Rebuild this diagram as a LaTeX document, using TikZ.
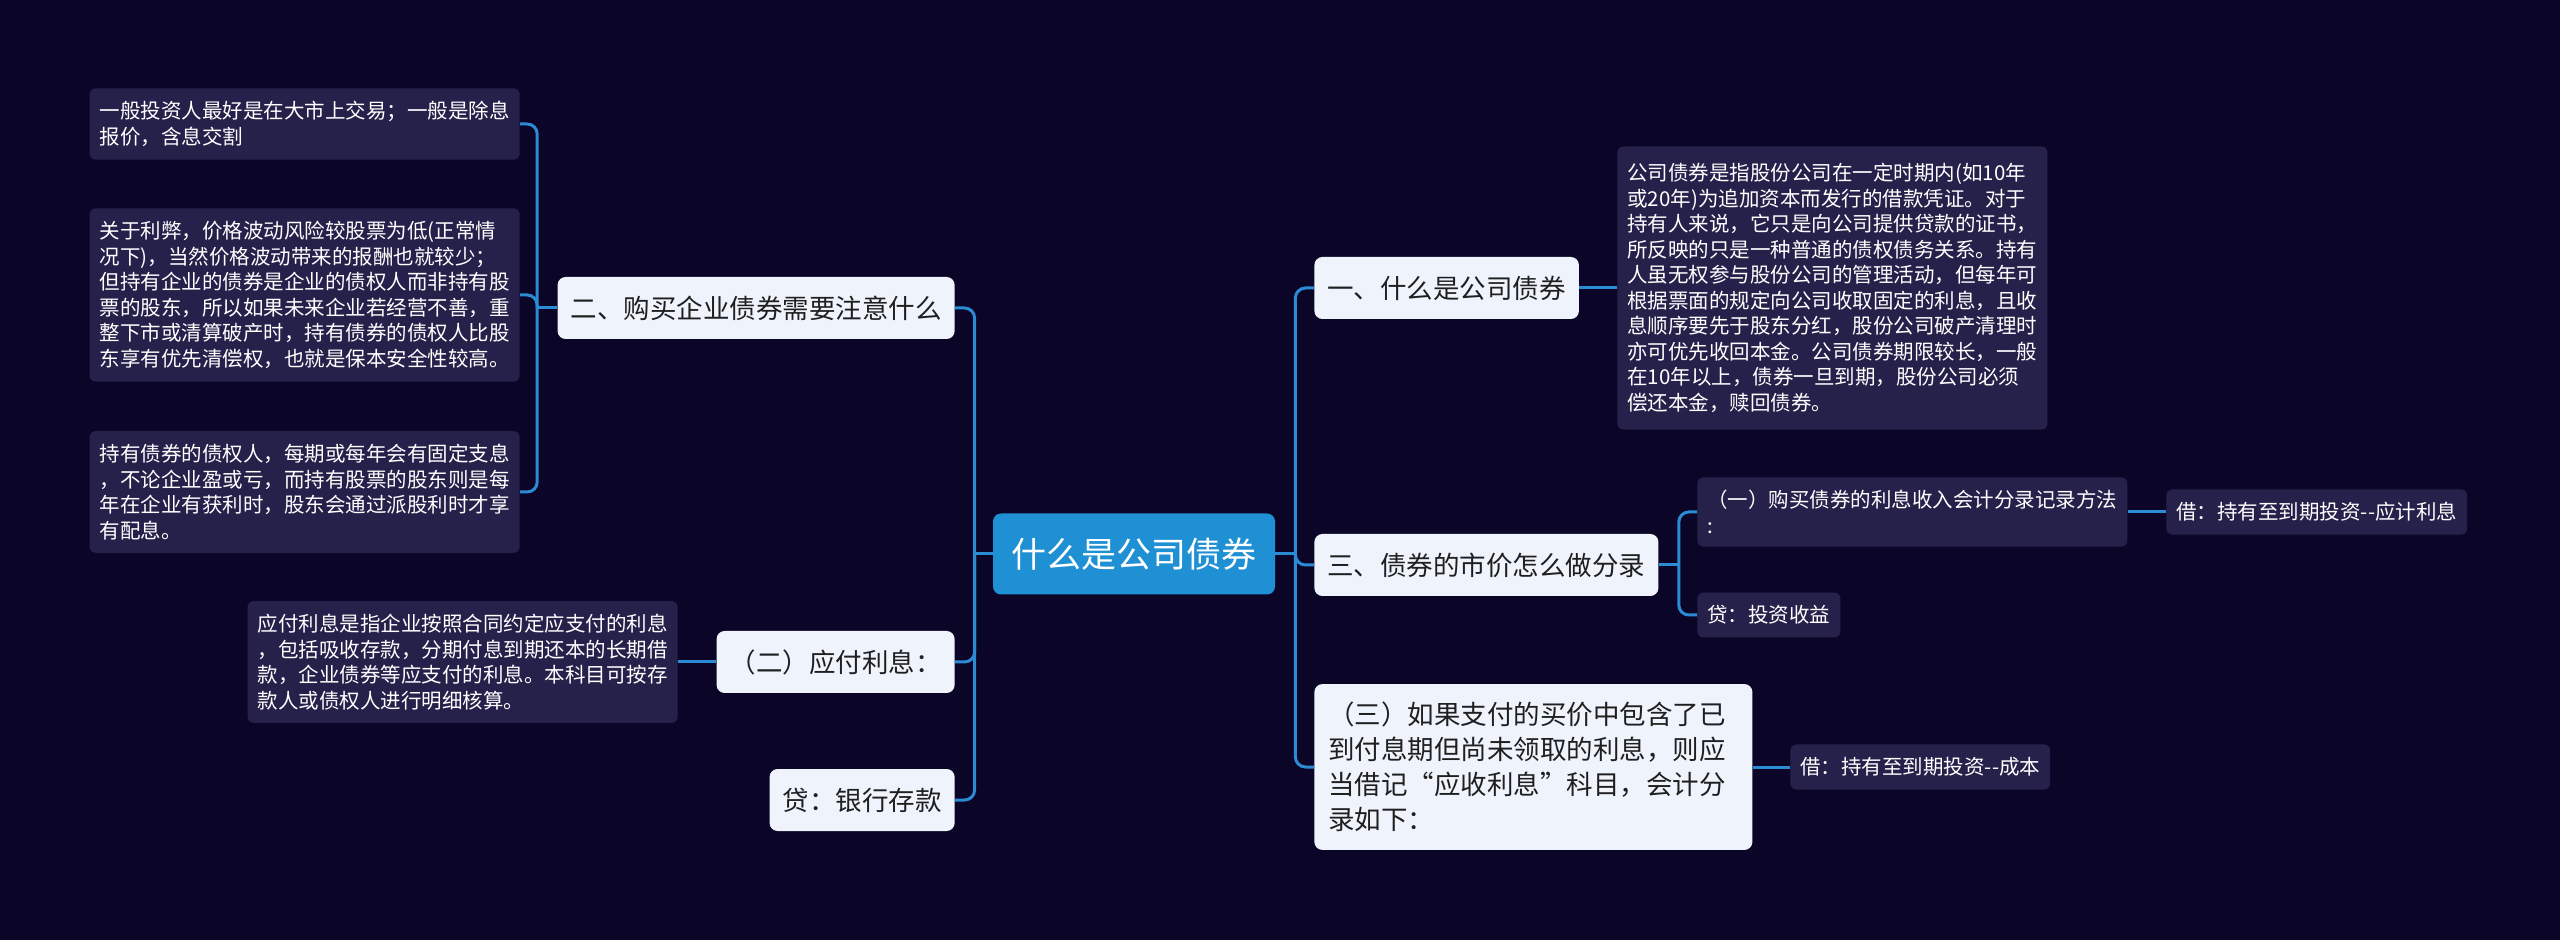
\documentclass[tikz,border=0pt]{standalone}
\usepackage{fontspec}
\setmainfont{Noto Sans CJK SC}
\definecolor{bgnavy}{RGB}{11,6,40}
\definecolor{leafbg}{RGB}{38,33,74}
\definecolor{topicbg}{RGB}{238,243,252}
\definecolor{rootbg}{RGB}{31,144,211}
\definecolor{linkblue}{RGB}{43,139,212}
\begin{document}
\begin{tikzpicture}[x=0.5pt,y=-0.5pt,
    leaf/.style={fill=leafbg,text=white,rounded corners=3pt,align=left,
        font=\fontsize{10.25}{12.75}\selectfont,inner xsep=5pt,inner ysep=6.5pt},
    topic/.style={fill=topicbg,text=black!88,rounded corners=4pt,align=left,
        font=\fontsize{13.25}{17.5}\selectfont,inner xsep=6.5pt,minimum height=31pt},
    link/.style={draw=linkblue,line width=1.5pt,rounded corners=5pt}]
    \fill[bgnavy] (0,0) rectangle (2560,940);
    \node[fill=rootbg,text=white,rounded corners=4pt,font=\fontsize{17.5}{20}\selectfont,
        minimum width=141pt,minimum height=40.5pt] (root) at (1134,554) {什么是公司债券};
    \node[topic,anchor=east] (n2) at (955,308) {二、购买企业债券需要注意什么};
    \node[topic,anchor=east] (nB) at (955,662) {（二）应付利息：};
    \node[topic,anchor=east] (nC) at (955,800) {贷：银行存款};
    \node[leaf,anchor=east] (a1) at (520,124) {一般投资人最好是在大市上交易；一般是除息\\报价，含息交割};
    \node[leaf,anchor=east] (a2) at (520,295) {关于利弊，价格波动风险较股票为低(正常情\\况下)，当然价格波动带来的报酬也就较少；\\但持有企业的债券是企业的债权人而非持有股\\票的股东，所以如果未来企业若经营不善，重\\整下市或清算破产时，持有债券的债权人比股\\东享有优先清偿权，也就是保本安全性较高。};
    \node[leaf,anchor=east] (a3) at (520,492) {持有债券的债权人，每期或每年会有固定支息\\，不论企业盈或亏，而持有股票的股东则是每\\年在企业有获利时，股东会通过派股利时才享\\有配息。};
    \node[leaf,anchor=east] (b1) at (678,662) {应付利息是指企业按照合同约定应支付的利息\\，包括吸收存款，分期付息到期还本的长期借\\款，企业债券等应支付的利息。本科目可按存\\款人或债权人进行明细核算。};
    \node[topic,anchor=west] (r1) at (1314,288) {一、什么是公司债券};
    \node[topic,anchor=west] (r3) at (1314,565) {三、债券的市价怎么做分录};
    \node[topic,anchor=west,text width=205pt,inner xsep=7pt,inner ysep=9pt] (r4) at (1314,767)
        {（三）如果支付的买价中包含了已\\到付息期但尚未领取的利息，则应\\当借记“应收利息”科目，会计分\\录如下：};
    \node[leaf,anchor=west,inner ysep=8.5pt] (r1leaf) at (1617,288) {公司债券是指股份公司在一定时期内(如10年\\或20年)为追加资本而发行的借款凭证。对于\\持有人来说，它只是向公司提供贷款的证书，\\所反映的只是一种普通的债权债务关系。持有\\人虽无权参与股份公司的管理活动，但每年可\\根据票面的规定向公司收取固定的利息，且收\\息顺序要先于股东分红，股份公司破产清理时\\亦可优先收回本金。公司债券期限较长，一般\\在10年以上，债券一旦到期，股份公司必须\\偿还本金，赎回债券。};
    \node[leaf,anchor=west] (s1) at (1697,512) {（一）购买债券的利息收入会计分录记录方法\\:};
    \node[leaf,anchor=west] (s2) at (1697,615) {贷：投资收益};
    \node[leaf,anchor=west] (s1a) at (2166,512) {借：持有至到期投资-{}-应计利息};
    \node[leaf,anchor=west] (r4a) at (1790,767) {借：持有至到期投资-{}-成本};
    \coordinate (lt) at ([xshift=-9pt]root.west);
    \coordinate (ltA) at ([xshift=-10pt]n2.west);
    \coordinate (rt) at ([xshift=10pt]root.east);
    \coordinate (rtS) at ([xshift=10pt]r3.east);
    \draw[link] (root.west) -- (lt);
    \foreach \n in {n2,nB,nC} \draw[link] (lt) |- (\n.east);
    \draw[link] (n2.west) -- (ltA);
    \foreach \n in {a1,a2,a3} \draw[link] (ltA) |- (\n.east);
    \draw[link] (nB.west) -- (b1.east);
    \draw[link] (root.east) -- (rt);
    \foreach \n in {r1,r3,r4} \draw[link] (rt) |- (\n.west);
    \draw[link] (r1.east) -- (r1leaf.west);
    \draw[link] (r3.east) -- (rtS);
    \foreach \n in {s1,s2} \draw[link] (rtS) |- (\n.west);
    \draw[link] (s1.east) -- (s1a.west);
    \draw[link] (r4.east) -- (r4a.west);
\end{tikzpicture}
\end{document}
